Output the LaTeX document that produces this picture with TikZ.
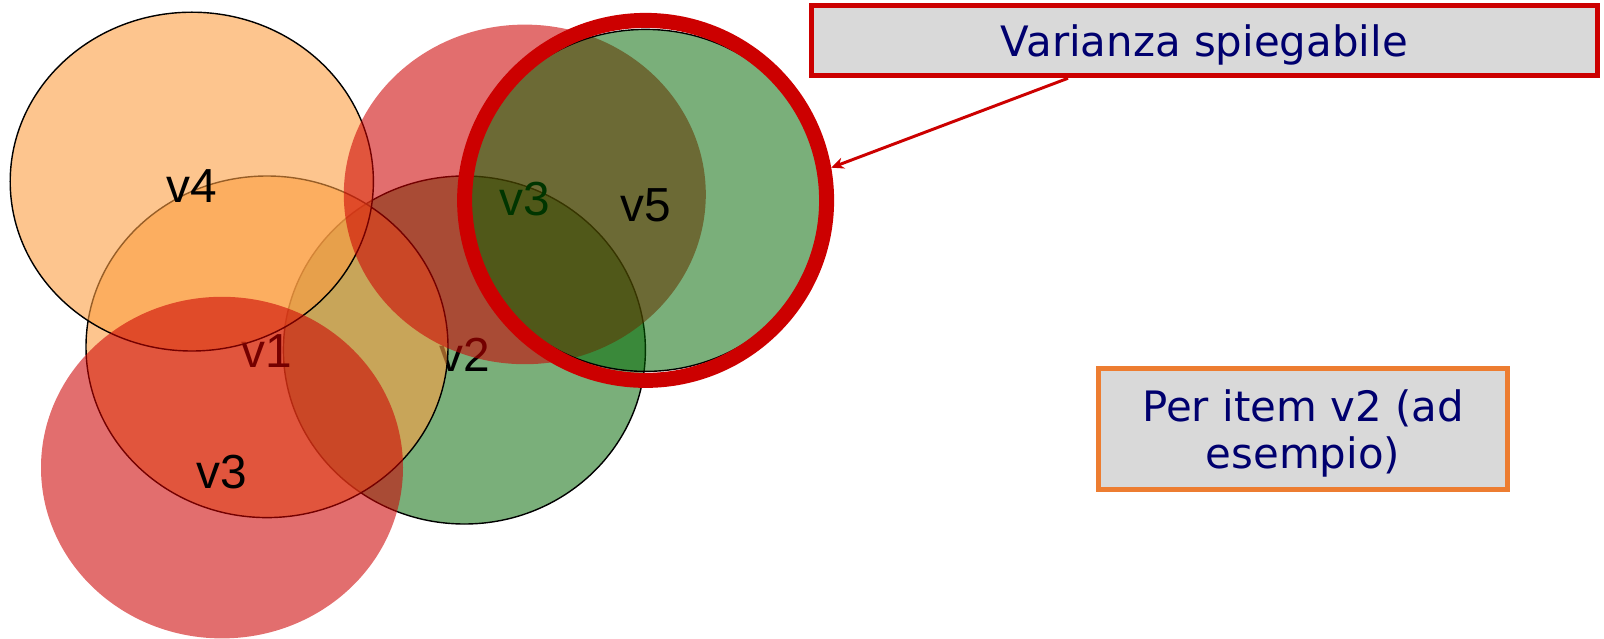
\documentclass[tikz,border=0pt]{standalone}
\usepackage{fontspec}
\setmainfont{DejaVu Sans}
\newfontfamily\arialfont{Liberation Sans}
\usepackage{tikz}
\usetikzlibrary{shapes.geometric,arrows.meta}
\definecolor{arancio}{RGB}{252,158,66}
\definecolor{verde}{RGB}{0,102,0}
\definecolor{rosso}{RGB}{204,0,0}
\definecolor{grigio}{RGB}{217,217,217}
\definecolor{blu}{RGB}{0,0,110}
\definecolor{bordoarancio}{RGB}{237,125,49}

\begin{document}
\begin{tikzpicture}[
	set/.style={ellipse, inner sep=0pt, outer sep=0pt, minimum width=9.05cm, minimum height=8.55cm,
		text height=1.05cm, text depth=0pt, text opacity=1, font=\arialfont\fontsize{34}{34}\selectfont},
	arancio set/.style={set, fill=arancio, fill opacity=0.6, draw=black, line width=1pt},
	verde set/.style={set, fill=verde, fill opacity=0.52, draw=black, line width=1pt},
	rosso set/.style={set, fill=rosso, fill opacity=0.57},
	box/.style={rectangle, fill=grigio, line width=3.5pt, inner sep=0pt, text=blu, text depth=0pt,
		font=\fontsize{29.8}{33.1}\selectfont}
	]
	\useasboundingbox (0,0) rectangle (40.1,15.95);
	\node[verde set, minimum height=8.7cm] (v2) at (11.61,7.20) {v2};
	\node[arancio set, minimum height=8.54cm] (v1) at (6.675,7.28) {v1};
	\node[arancio set, minimum width=9.08cm, minimum height=8.47cm] (v4) at (4.795,11.41) {v4};
	\node[rosso set, minimum height=8.54cm] (v3a) at (5.55,4.26) {v3};
	\node[rosso set, minimum height=8.49cm] (v3b) at (13.12,11.09) {v3};
	\node[verde set] (v5) at (16.14,10.94) {v5};
	\node[ellipse, draw=rosso, line width=0.375cm, minimum width=9.05cm, minimum height=9cm] (evid) at (16.14,10.94) {};
	\node[box, draw=rosso, minimum width=19.65cm, minimum height=1.75cm] (spieg) at (30.11,14.93) {Varianza spiegabile};
	\node[box, draw=bordoarancio, minimum width=10.215cm, minimum height=3.03cm, align=center] (item) at (32.575,5.2175) {Per item v2 (ad\\esempio)};
	\draw[-{Stealth[length=9pt,width=8pt]}, rosso, line width=2.1pt] ([xshift=-3.41cm]spieg.south) -- (evid.10);
\end{tikzpicture}
\end{document}
